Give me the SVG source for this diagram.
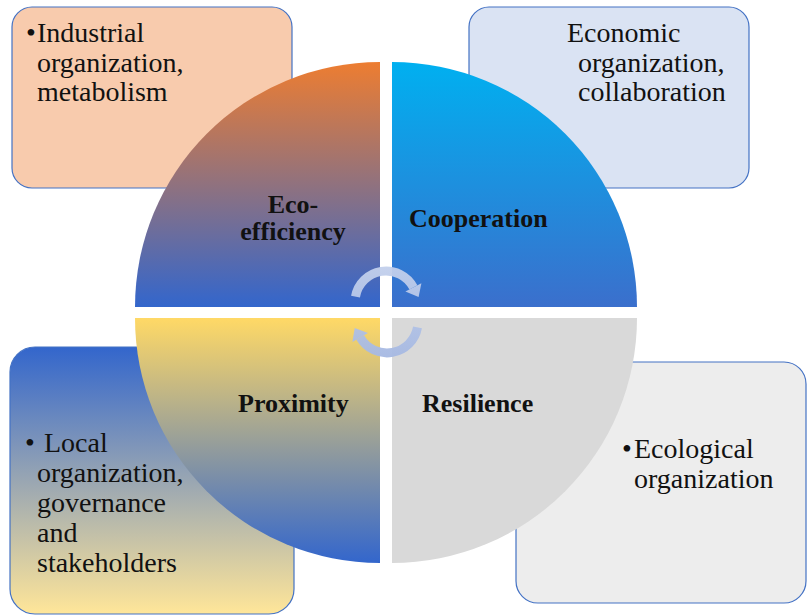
<svg xmlns="http://www.w3.org/2000/svg" width="807" height="615" viewBox="0 0 807 615">
<defs>
<style>
.box{stroke:#4472c4;stroke-width:1.2}
.txt{font-family:"Liberation Serif","Times New Roman",serif;font-size:28px;fill:#111}
.lbl{font-family:"Liberation Serif","Times New Roman",serif;font-size:26px;font-weight:bold;fill:#111}
.arc{fill:none;stroke:url(#gArr);stroke-width:9}
.head{fill:url(#gArr)}
</style>
<linearGradient id="gTL" x1="0" y1="62" x2="0" y2="307" gradientUnits="userSpaceOnUse"><stop offset="0" stop-color="#ed7d31"/><stop offset="1" stop-color="#3366cc"/></linearGradient>
<linearGradient id="gTR" x1="0" y1="62" x2="0" y2="307" gradientUnits="userSpaceOnUse"><stop offset="0" stop-color="#00b0f0"/><stop offset="1" stop-color="#3b6fcc"/></linearGradient>
<linearGradient id="gBL" x1="0" y1="318" x2="0" y2="563" gradientUnits="userSpaceOnUse"><stop offset="0" stop-color="#ffd966"/><stop offset="1" stop-color="#3366cc"/></linearGradient>
<linearGradient id="gBox" x1="0" y1="347" x2="0" y2="614" gradientUnits="userSpaceOnUse"><stop offset="0" stop-color="#3366cc"/><stop offset="1" stop-color="#ffe699"/></linearGradient>
<linearGradient id="gArr" x1="0" y1="265" x2="0" y2="360" gradientUnits="userSpaceOnUse"><stop offset="0" stop-color="#c3d0ec" stop-opacity="0.95"/><stop offset="1" stop-color="#a5b8e2" stop-opacity="0.95"/></linearGradient>
</defs>
<g id="box-industrial">
<rect class="box" x="12" y="7" width="280" height="181" rx="20" fill="#f8cbad"/>
<text class="txt"><tspan x="26" y="42">•</tspan><tspan x="37" y="42">Industrial</tspan><tspan x="37" y="72">organization,</tspan><tspan x="37" y="101">metabolism</tspan></text>
</g>
<g id="box-economic">
<rect class="box" x="469" y="7" width="280" height="181" rx="20" fill="#dae3f3"/>
<text class="txt"><tspan x="567" y="42">Economic</tspan><tspan x="578" y="72">organization,</tspan><tspan x="578" y="101">collaboration</tspan></text>
</g>
<g id="box-local">
<rect class="box" x="10" y="347" width="284" height="267" rx="25" fill="url(#gBox)"/>
<text class="txt"><tspan x="25" y="452">•</tspan><tspan x="44" y="452">Local</tspan><tspan x="37" y="482">organization,</tspan><tspan x="37" y="512">governance</tspan><tspan x="37" y="542">and</tspan><tspan x="37" y="572">stakeholders</tspan></text>
</g>
<g id="box-ecological">
<rect class="box" x="516" y="362" width="290" height="241" rx="22" fill="#ededed"/>
<text class="txt"><tspan x="622" y="458">•</tspan><tspan x="634" y="458">Ecological</tspan><tspan x="634" y="488">organization</tspan></text>
</g>
<g id="q-eco-efficiency">
<path d="M380,307 L135,307 A245,245 0 0 1 380,62 Z" fill="url(#gTL)"/>
<text class="lbl" text-anchor="middle"><tspan x="293" y="213">Eco-</tspan><tspan x="293" y="240">efficiency</tspan></text>
</g>
<g id="q-cooperation">
<path d="M392,307 L392,62 A245,245 0 0 1 637,307 Z" fill="url(#gTR)"/>
<text class="lbl" x="409" y="227">Cooperation</text>
</g>
<g id="q-proximity">
<path d="M380,318 L380,563 A245,245 0 0 1 135,318 Z" fill="url(#gBL)"/>
<text class="lbl" x="238" y="412">Proximity</text>
</g>
<g id="q-resilience">
<path d="M392,318 L637,318 A245,245 0 0 1 392,563 Z" fill="#d9d9d9"/>
<text class="lbl" x="422" y="412">Resilience</text>
</g>
<g id="connectors">
<path class="arc" d="M355.5,296.6 A31,31 0 0 1 413.4,287.4"/>
<polygon class="head" points="421.4,283.2 405.4,291.6 418.6,297.1"/>
<path class="arc" d="M417.5,327.4 A31,31 0 0 1 360.2,337.5"/>
<polygon class="head" points="368,333 352.4,342 354.7,328"/>
</g>
</svg>
